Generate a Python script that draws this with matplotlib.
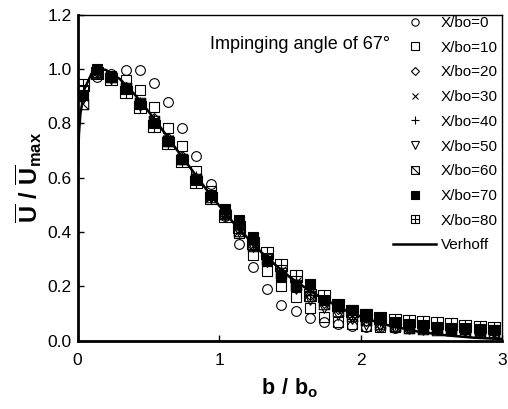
import matplotlib
matplotlib.use("Agg")
import matplotlib.pyplot as plt
from matplotlib.path import Path

# ============================================================
# DATA
# ============================================================

B_POS = [0.04, 0.14, 0.24, 0.34, 0.44, 0.54, 0.64, 0.74, 0.84, 0.94,
         1.04, 1.14, 1.24, 1.34, 1.44, 1.54, 1.64, 1.74, 1.84, 1.94,
         2.04, 2.14, 2.24, 2.34, 2.44, 2.54, 2.64, 2.74, 2.84, 2.94]

U_X0 = [0.90, 0.97, 0.98, 0.998, 0.998, 0.95, 0.878, 0.783, 0.679, 0.576,
        0.46, 0.355, 0.27, 0.19, 0.13, 0.11, 0.083, 0.068, 0.063, 0.055,
        0.05, 0.05, 0.048, 0.046, 0.045, 0.043, 0.041, 0.039, 0.037, 0.035]
U_X10 = [0.92, 0.99, 0.975, 0.958, 0.923, 0.862, 0.782, 0.715, 0.625, 0.55,
         0.47, 0.395, 0.316, 0.257, 0.20, 0.16, 0.12, 0.088, 0.068, 0.06,
         0.055, 0.052, 0.05, 0.048, 0.046, 0.045, 0.043, 0.042, 0.04, 0.04]
U_X20 = [0.90, 0.99, 0.975, 0.935, 0.875, 0.82, 0.745, 0.68, 0.60, 0.535,
         0.47, 0.41, 0.35, 0.30, 0.25, 0.21, 0.17, 0.14, 0.115, 0.09,
         0.072, 0.06, 0.052, 0.048, 0.045, 0.042, 0.04, 0.038, 0.036, 0.035]
U_X30 = [0.90, 0.99, 0.97, 0.93, 0.87, 0.81, 0.74, 0.67, 0.60, 0.53,
         0.465, 0.405, 0.35, 0.30, 0.255, 0.215, 0.175, 0.145, 0.12, 0.095,
         0.078, 0.064, 0.055, 0.05, 0.046, 0.043, 0.04, 0.038, 0.036, 0.034]
U_X40 = [0.91, 0.995, 0.975, 0.935, 0.88, 0.815, 0.745, 0.675, 0.605, 0.535,
         0.47, 0.41, 0.355, 0.305, 0.26, 0.22, 0.18, 0.15, 0.125, 0.10,
         0.082, 0.068, 0.058, 0.052, 0.048, 0.045, 0.042, 0.04, 0.038, 0.036]
U_X50 = [0.89, 0.985, 0.965, 0.925, 0.865, 0.80, 0.73, 0.665, 0.59, 0.525,
         0.46, 0.40, 0.345, 0.29, 0.235, 0.19, 0.15, 0.12, 0.096, 0.08,
         0.057, 0.05, 0.045, 0.042, 0.04, 0.038, 0.036, 0.034, 0.032, 0.03]
U_X60 = [0.87, 0.985, 0.97, 0.93, 0.875, 0.81, 0.735, 0.67, 0.595, 0.53,
         0.465, 0.405, 0.35, 0.30, 0.25, 0.205, 0.165, 0.135, 0.11, 0.09,
         0.075, 0.062, 0.054, 0.048, 0.044, 0.041, 0.038, 0.036, 0.034, 0.032]
U_X70 = [0.905, 1.0, 0.97, 0.925, 0.87, 0.80, 0.735, 0.67, 0.592, 0.535,
         0.484, 0.444, 0.38, 0.294, 0.234, 0.20, 0.21, 0.15, 0.13, 0.113,
         0.10, 0.085, 0.07, 0.062, 0.056, 0.05, 0.048, 0.045, 0.042, 0.04]
U_X80 = [0.94, 0.984, 0.965, 0.915, 0.862, 0.789, 0.727, 0.66, 0.585, 0.525,
         0.46, 0.42, 0.36, 0.322, 0.279, 0.238, 0.169, 0.165, 0.132, 0.108,
         0.096, 0.085, 0.077, 0.072, 0.068, 0.065, 0.06, 0.055, 0.05, 0.045]

VERHOFF_B = [0.003, 0.01, 0.02, 0.05, 0.1, 0.15, 0.2, 0.3, 0.4, 0.5, 0.6,
             0.7, 0.8, 0.9, 1.0, 1.1, 1.2, 1.3, 1.4, 1.5, 1.6, 1.7, 1.8,
             1.9, 2.0, 2.1, 2.2, 2.4, 2.6, 2.8, 3.0]
VERHOFF_U = [0.645, 0.76, 0.834, 0.928, 0.984, 1.0, 0.997, 0.963, 0.909,
             0.845, 0.776, 0.704, 0.634, 0.564, 0.498, 0.435, 0.379, 0.325,
             0.278, 0.234, 0.198, 0.165, 0.137, 0.110, 0.089, 0.071, 0.056,
             0.034, 0.020, 0.011, 0.006]

LABELS = ["X/bo=0", "X/bo=10", "X/bo=20", "X/bo=30", "X/bo=40",
          "X/bo=50", "X/bo=60", "X/bo=70", "X/bo=80"]

# ============================================================
# MARKERS
# ============================================================

M, L, C = Path.MOVETO, Path.LINETO, Path.CLOSEPOLY
SQUARE = [(-1, -1), (1, -1), (1, 1), (-1, 1), (-1, -1)]
SQ_CODES = [M, L, L, L, C]

# square with a "\" diagonal, square with a "+" inside
SQUARE_DIAG = Path(SQUARE + [(-1, 1), (1, -1)], SQ_CODES + [M, L])
SQUARE_PLUS = Path(SQUARE + [(-1, 0), (1, 0), (0, -1), (0, 1)],
                   SQ_CODES + [M, L, M, L])

STYLES = [
    dict(marker="o", mfc="none", ms=7),
    dict(marker="s", mfc="none", ms=7.5),
    dict(marker="D", mfc="none", ms=5.5),
    dict(marker="x", ms=6.5),
    dict(marker="+", ms=7.5),
    dict(marker="v", mfc="none", ms=7),
    dict(marker=SQUARE_DIAG, mfc="none", ms=7.5),
    dict(marker="s", mfc="black", ms=7.5),
    dict(marker=SQUARE_PLUS, mfc="none", ms=8),
]

# ============================================================
# PLOT
# ============================================================

plt.rcParams["font.family"] = ["Liberation Sans", "DejaVu Sans"]
plt.rcParams["mathtext.fontset"] = "custom"
plt.rcParams["mathtext.rm"] = "Liberation Sans"
plt.rcParams["mathtext.bf"] = "Liberation Sans:bold"

fig = plt.figure(figsize=(5.08, 4.09), dpi=100)
ax = fig.add_axes([0.1526, 0.167, 0.836, 0.797])

series = [U_X0, U_X10, U_X20, U_X30, U_X40, U_X50, U_X60, U_X70, U_X80]
for values, label, style in zip(series, LABELS, STYLES):
    ax.plot(B_POS, values, linestyle="none", color="black", mec="black",
            mew=0.8, label=label, **style)

ax.plot(VERHOFF_B, VERHOFF_U, color="black", linewidth=1.8, label="Verhoff")

ax.set_xlim(0, 3)
ax.set_ylim(0, 1.2)
ax.set_xticks([0, 1, 2, 3])
ax.set_yticks([0.0, 0.2, 0.4, 0.6, 0.8, 1.0, 1.2])
ax.set_yticklabels(["0.0", "0.2", "0.4", "0.6", "0.8", "1.0", "1.2"])
ax.tick_params(direction="in", length=4, width=1, labelsize=12.5)
ax.tick_params(axis="x", pad=9)
ax.tick_params(axis="y", pad=4)

ax.spines["left"].set_linewidth(2)
ax.spines["bottom"].set_linewidth(2)
ax.spines["top"].set_linewidth(1)
ax.spines["right"].set_linewidth(1)

ax.set_xlabel(r"$\mathbf{b\ /\ b_o}$", fontsize=15.5, labelpad=6)
ax.set_ylabel(r"$\mathbf{\overline{U}\ /\ \overline{U}_{max}}$",
              fontsize=17, labelpad=3)

ax.text(0.936, 1.092, "Impinging angle of 67°", fontsize=13, va="center")

ax.legend(loc="upper right", bbox_to_anchor=(1.0, 1.01), frameon=False,
          fontsize=11, markerscale=0.75, labelspacing=0.7,
          handlelength=2.8, handletextpad=0.3, borderpad=0.1,
          borderaxespad=0.2)

fig.savefig("out.png", dpi=100)
